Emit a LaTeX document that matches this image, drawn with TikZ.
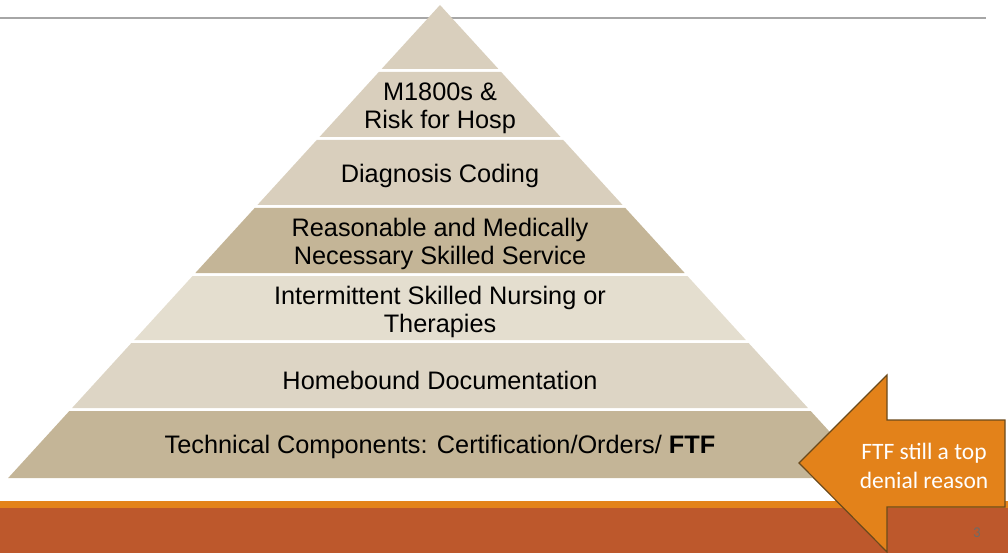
\documentclass[tikz,border=0pt]{standalone}
\usepackage{fontspec}
\setmainfont{Liberation Sans}
\newfontfamily\calibri{Carlito}
\definecolor{tanmid}{HTML}{D9CFBD}
\definecolor{tandark}{HTML}{C4B597}
\definecolor{tanpale}{HTML}{E4DECF}
\definecolor{tanlight}{HTML}{DDD5C5}
\definecolor{rule}{HTML}{A6A6A6}
\definecolor{barorange}{HTML}{E4831A}
\definecolor{barrust}{HTML}{BD582C}
\definecolor{arrowfill}{HTML}{E3821A}
\definecolor{arrowline}{HTML}{6B4A1C}
\definecolor{pagenum}{HTML}{6F6A66}
\begin{document}
\begin{tikzpicture}[
  x=1pt, y=-1pt,
  level/.style={font=\fontsize{25.3}{28}\selectfont, align=center, inner sep=0pt},
  callout/.style={font=\calibri\fontsize{23.5}{29}\selectfont, text=white, align=center, inner sep=0pt}
]
\useasboundingbox (0,0) rectangle (1008,553);
% title rule behind the pyramid
\draw[rule, line width=1.5pt] (0,18) -- (986,18);
% pyramid bands
\fill[tanmid] (440,5) -- ({440+0.913*64},69) -- ({440-0.913*64},69) -- cycle;
\foreach \ytop/\ybot/\col in {72/137/tanmid, 140/205/tanmid, 208/273/tandark,
                              276/340/tanpale, 343/408/tanlight, 411/478/tandark}
  \fill[\col] ({440-0.913*(\ytop-5)},\ytop) -- ({440+0.913*(\ytop-5)},\ytop)
        -- ({440+0.913*(\ybot-5)},\ybot) -- ({440-0.913*(\ybot-5)},\ybot) -- cycle;
% band labels
\node[level] (hosp) at (440,108) {M1800s \&\\Risk for Hosp};
\node[level] (coding) at (440,176) {Diagnosis Coding};
\node[level] (skilled) at (440,244) {Reasonable and Medically\\Necessary Skilled Service};
\node[level] (nursing) at (440,312) {Intermittent Skilled Nursing or\\Therapies};
\node[level] (homebound) at (440,380) {Homebound Documentation};
\node[level] (technical) at (440,447) {Technical Components: Certification/Orders/ \textbf{FTF}};
% footer bar
\fill[barorange] (0,501) rectangle (1008,508);
\fill[barrust] (0,508) rectangle (1008,553);
\node[font=\calibri\fontsize{15}{17}\selectfont, text=pagenum, inner sep=0pt] (page) at (977,533) {3};
% callout arrow
\filldraw[fill=arrowfill, draw=arrowline, line width=1.2pt, line join=miter]
  (799,463) -- (887,375) -- (887,420) -- (1005,420) -- (1005,507)
  -- (887,507) -- (887,552) -- cycle;
\node[callout] (denial) at (924,466) {FTF still a top\\denial reason};
\end{tikzpicture}
\end{document}
